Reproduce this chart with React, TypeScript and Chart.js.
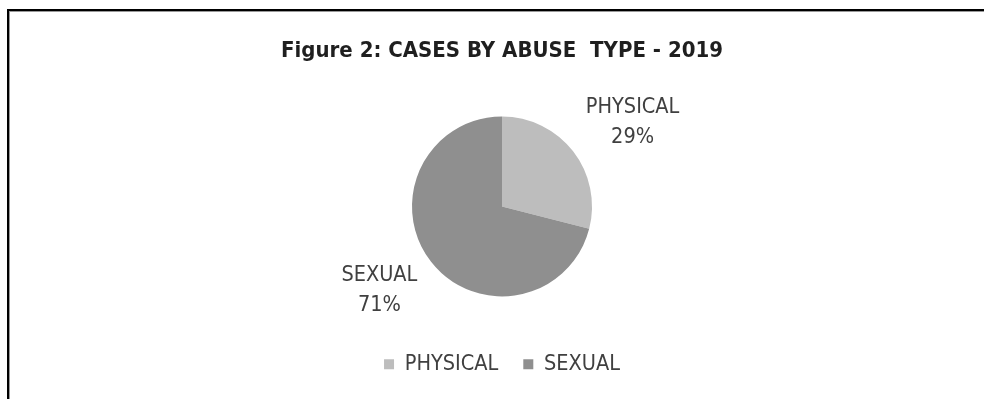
import React, { useEffect, useRef } from "react";
import { Chart, registerables } from "chart.js";

Chart.register(...registerables);

const categories = ["PHYSICAL", "SEXUAL"];
const values = [29, 71];
const percentLabels = ["29%", "71%"];
const colors = ["#bdbdbd", "#8f8f8f"];
const titleText = "Figure 2: CASES BY ABUSE  TYPE - 2019";

const FONT = "'Liberation Sans Narrow', 'DejaVu Sans Condensed', 'Noto Sans', sans-serif";

const outsideLabels = {
  id: "outsideLabels",
  afterDatasetsDraw(chart: any) {
    const meta = chart.getDatasetMeta(0);
    const ctx = chart.ctx;
    ctx.save();
    ctx.fillStyle = "#404040";
    ctx.font = `21.5px ${FONT}`;
    ctx.textAlign = "center";
    ctx.textBaseline = "middle";
    meta.data.forEach((arc: any, i: number) => {
      const { x, y, startAngle, endAngle, outerRadius } = arc.getProps(
        ["x", "y", "startAngle", "endAngle", "outerRadius"],
        true
      );
      const mid = (startAngle + endAngle) / 2;
      const cx = x + 4 + Math.cos(mid) * outerRadius * 1.78;
      const cy = y + Math.sin(mid) * outerRadius * 1.52;
      ctx.fillText(categories[i], cx, cy - 15);
      ctx.fillText(percentLabels[i], cx, cy + 15);
    });
    ctx.restore();
  },
};

export default function App() {
  const ref = useRef<HTMLCanvasElement | null>(null);
  useEffect(() => {
    if (!ref.current) return;
    const chart = new Chart(ref.current, {
      type: "pie",
      data: {
        labels: categories,
        datasets: [
          {
            data: values,
            backgroundColor: colors,
            borderWidth: 0,
            radius: 90,
          },
        ],
      },
      options: {
        animation: false,
        responsive: false,
        maintainAspectRatio: false,
        layout: { padding: { left: 20, right: 0, top: 0, bottom: 14 } },
        plugins: {
          title: {
            display: true,
            text: titleText,
            color: "#1f1f1f",
            font: { family: FONT, size: 22, weight: "bold" },
            padding: { top: 38, bottom: 20 },
          },
          legend: {
            display: true,
            position: "bottom",
            labels: {
              color: "#404040",
              font: { family: FONT, size: 21.5 },
              boxWidth: 10,
              boxHeight: 10,
              padding: 25,
            },
          },
          tooltip: { enabled: false },
        },
      },
      plugins: [outsideLabels],
    });
    return () => chart.destroy();
  }, []);

  return (
    <div style={{ position: "absolute", left: 0, top: 0, width: 984, height: 399, background: "#fff", overflow: "hidden" }}>
      <div
        style={{
          position: "absolute",
          left: 7,
          top: 9,
          width: 1000,
          height: 420,
          borderTop: "2px solid #000",
          borderLeft: "2px solid #000",
          boxShadow: "inset 1px 1px 0 #999",
        }}
      />
      <canvas ref={ref} width={984} height={399} style={{ position: "absolute", left: 0, top: 0 }} />
    </div>
  );
}
